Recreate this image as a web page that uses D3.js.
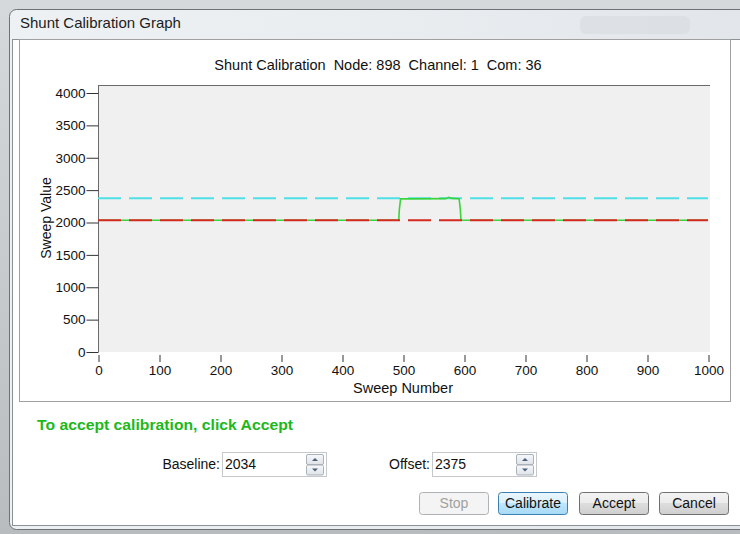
<!DOCTYPE html>
<html>
<head>
<meta charset="utf-8">
<script src="https://cdn.jsdelivr.net/npm/d3@7"></script>
<style>
  html, body { margin: 0; padding: 0; background: #c4c4c4; }
  svg { display: block; }
  text { font-family: "Liberation Sans", Arial, sans-serif; }
</style>
</head>
<body>
<svg id="win" width="740" height="534"></svg>
<script>
// dades del gràfic
const chartTitle = "Shunt Calibration  Node: 898  Channel: 1  Com: 36";
const xTicks = [0, 100, 200, 300, 400, 500, 600, 700, 800, 900, 1000];
const yTicks = [0, 500, 1000, 1500, 2000, 2500, 3000, 3500, 4000];
const baselineValue = 2034;
const offsetValue = 2375;
// traça verda (escombrat)
const sweepNumber = [0, 493, 494, 496, 570, 575, 580, 592, 594, 595, 1000];
const sweepValue  = [2034, 2034, 2200, 2365, 2368, 2390, 2372, 2368, 2200, 2034, 2034];
const buttons = ["Stop", "Calibrate", "Accept", "Cancel"];

const svg = d3.select("#win");
const defs = svg.append("defs");

// Fons d'escriptori borrós
const bg = defs.append("linearGradient").attr("id", "desk").attr("x1", 0).attr("x2", 0).attr("y1", 0).attr("y2", 1);
bg.append("stop").attr("offset", 0).attr("stop-color", "#d6d9dc");
bg.append("stop").attr("offset", 1).attr("stop-color", "#b9bcbf");
svg.append("rect").attr("width", 740).attr("height", 534).attr("fill", "url(#desk)");

// Marc de finestra (vidre)
const glass = defs.append("linearGradient").attr("id", "glass").attr("x1", 0).attr("x2", 1);
glass.append("stop").attr("offset", 0).attr("stop-color", "#eef1f4");
glass.append("stop").attr("offset", 0.5).attr("stop-color", "#eaedf0");
glass.append("stop").attr("offset", 1).attr("stop-color", "#e2e6ea");
svg.append("rect")
  .attr("x", 9.5).attr("y", 9.5).attr("width", 740).attr("height", 520)
  .attr("rx", 7).attr("fill", "url(#glass)").attr("stroke", "#6e7277");
// taques borroses a la barra de títol
svg.append("rect").attr("x", 580).attr("y", 16).attr("width", 110).attr("height", 18)
  .attr("fill", "#d3d7db").attr("opacity", 0.45).attr("rx", 6);

svg.append("text")
  .attr("x", 20).attr("y", 28)
  .attr("font-family", "'Noto Sans', 'Open Sans', sans-serif")
  .attr("font-size", 15).attr("fill", "#1c1c1c")
  .text("Shunt Calibration Graph");

// Àrea client
svg.append("rect")
  .attr("x", 12.5).attr("y", 39.5).attr("width", 730).attr("height", 486)
  .attr("fill", "#ffffff").attr("stroke", "#8c9196");

// Panell del gràfic
svg.append("rect")
  .attr("x", 19.5).attr("y", 39.5).attr("width", 711).attr("height", 362)
  .attr("fill", "#ffffff").attr("stroke", "#a0a0a0");

// Escales
const x = d3.scaleLinear().domain([0, 1000]).range([98, 708]);
const y = d3.scaleLinear().domain([0, 4000]).range([352, 93]);

// Fons de la zona de dibuix
svg.append("rect")
  .attr("x", 98).attr("y", 85).attr("width", 612).attr("height", 267)
  .attr("fill", "#f0f0f0");
svg.append("line")
  .attr("x1", 98).attr("x2", 710).attr("y1", 85.5).attr("y2", 85.5)
  .attr("stroke", "#6a6a6a");

// Títol del gràfic
svg.append("text")
  .attr("x", 378).attr("y", 70)
  .attr("text-anchor", "middle")
  .attr("font-size", 14.5).attr("fill", "#111")
  .style("white-space", "pre")
  .text(chartTitle);

// Eix Y
const yAxis = svg.append("g")
  .attr("transform", "translate(98.5,0)")
  .call(d3.axisLeft(y).tickValues(yTicks).tickFormat(d3.format("d"))
    .tickSize(12).tickPadding(1).tickSizeOuter(0));
yAxis.select(".domain").attr("d", "M0,85V352").attr("stroke", "#6a6a6a");
yAxis.selectAll(".tick line").attr("stroke", "#333");
yAxis.selectAll(".tick text")
  .attr("font-size", 13.5).attr("fill", "#111")
  .attr("font-family", "'Liberation Sans', Arial, sans-serif");

// Eix X (marques separades de la zona)
const xAxis = svg.append("g")
  .attr("transform", "translate(0.5,355)")
  .call(d3.axisBottom(x).tickValues(xTicks).tickFormat(d3.format("d"))
    .tickSize(7).tickPadding(3).tickSizeOuter(0));
xAxis.select(".domain").remove();
xAxis.selectAll(".tick line").attr("stroke", "#333");
xAxis.selectAll(".tick text")
  .attr("font-size", 13.5).attr("fill", "#111")
  .attr("font-family", "'Liberation Sans', Arial, sans-serif");

svg.append("text")
  .attr("x", 403).attr("y", 393)
  .attr("text-anchor", "middle")
  .attr("font-size", 14.5).attr("fill", "#111")
  .text("Sweep Number");

svg.append("text")
  .attr("transform", "translate(51,218) rotate(-90)")
  .attr("text-anchor", "middle")
  .attr("font-size", 14).attr("fill", "#111")
  .text("Sweep Value");

// Línies
const line = d3.line().x(d => x(d[0])).y(d => y(d[1]));

svg.append("path")
  .datum([[0, offsetValue], [1000, offsetValue]])
  .attr("d", line)
  .attr("fill", "none").attr("stroke", "#4fdfe6").attr("stroke-width", 2)
  .attr("stroke-dasharray", "23 8");

svg.append("path")
  .datum(sweepNumber.map((n, i) => [n, sweepValue[i]]))
  .attr("d", line)
  .attr("fill", "none").attr("stroke", "#3ad43a").attr("stroke-width", 1.6);

svg.append("path")
  .datum([[0, baselineValue], [1000, baselineValue]])
  .attr("d", line)
  .attr("fill", "none").attr("stroke", "#d42a20").attr("stroke-width", 2)
  .attr("stroke-dasharray", "23 8");

// Missatge
svg.append("text")
  .attr("x", 37).attr("y", 430)
  .attr("font-family", "'DejaVu Sans', Verdana, sans-serif")
  .attr("font-weight", "bold")
  .attr("font-size", 14.5).attr("fill", "#1cb81c")
  .attr("textLength", 256).attr("lengthAdjust", "spacingAndGlyphs")
  .text("To accept calibration, click Accept");

// Camps numèrics amb botons d'increment
const spinGrad = defs.append("linearGradient").attr("id", "spin").attr("x1", 0).attr("x2", 0).attr("y1", 0).attr("y2", 1);
spinGrad.append("stop").attr("offset", 0).attr("stop-color", "#f7f8fa");
spinGrad.append("stop").attr("offset", 1).attr("stop-color", "#dfe3e8");

function spinBox(label, value, labelRight, bx) {
  svg.append("text")
    .attr("x", labelRight).attr("y", 469)
    .attr("text-anchor", "end")
    .attr("font-size", 14).attr("fill", "#111")
    .text(label);
  svg.append("rect")
    .attr("x", bx + 0.5).attr("y", 452.5).attr("width", 104).attr("height", 24)
    .attr("fill", "#fff").attr("stroke", "#c5c9ce");
  svg.append("text")
    .attr("x", bx + 3).attr("y", 469)
    .attr("font-size", 14).attr("fill", "#111")
    .text(value);
  [0, 1].forEach(k => {
    const sy = 454.5 + k * 10.5;
    svg.append("rect")
      .attr("x", bx + 84.5).attr("y", sy).attr("width", 17).attr("height", 10)
      .attr("rx", 1.5).attr("fill", "url(#spin)").attr("stroke", "#a9b1ba");
    const cx = bx + 93, cy = sy + 5;
    const tri = k === 0
      ? `M${cx - 3},${cy + 1.5}L${cx + 3},${cy + 1.5}L${cx},${cy - 1.5}Z`
      : `M${cx - 3},${cy - 1.5}L${cx + 3},${cy - 1.5}L${cx},${cy + 1.5}Z`;
    svg.append("path").attr("d", tri).attr("fill", "#4a5f78");
  });
}
spinBox("Baseline:", String(baselineValue), 220, 222);
spinBox("Offset:", String(offsetValue), 430, 432);

// Botons
const btnGrad = defs.append("linearGradient").attr("id", "btn").attr("x1", 0).attr("x2", 0).attr("y1", 0).attr("y2", 1);
btnGrad.append("stop").attr("offset", 0).attr("stop-color", "#f3f3f3");
btnGrad.append("stop").attr("offset", 0.5).attr("stop-color", "#ebebeb");
btnGrad.append("stop").attr("offset", 0.5).attr("stop-color", "#dddddd");
btnGrad.append("stop").attr("offset", 1).attr("stop-color", "#cfcfcf");
const focGrad = defs.append("linearGradient").attr("id", "btnf").attr("x1", 0).attr("x2", 0).attr("y1", 0).attr("y2", 1);
focGrad.append("stop").attr("offset", 0).attr("stop-color", "#eaf6fd");
focGrad.append("stop").attr("offset", 0.5).attr("stop-color", "#d9f0fc");
focGrad.append("stop").attr("offset", 0.5).attr("stop-color", "#bee6fd");
focGrad.append("stop").attr("offset", 1).attr("stop-color", "#a7d9f5");

const btnX = [419, 498, 579, 659];
buttons.forEach((b, i) => {
  const disabled = b === "Stop";
  const focus = b === "Calibrate";
  svg.append("rect")
    .attr("x", btnX[i] + 0.5).attr("y", 492.5).attr("width", 69).attr("height", 22)
    .attr("rx", 3)
    .attr("fill", disabled ? "#f4f4f4" : focus ? "url(#btnf)" : "url(#btn)")
    .attr("stroke", disabled ? "#adb2b5" : focus ? "#3c7fb1" : "#707070");
  svg.append("text")
    .attr("x", btnX[i] + 35).attr("y", 508)
    .attr("text-anchor", "middle")
    .attr("font-size", 14)
    .attr("fill", disabled ? "#a0a0a0" : "#111")
    .text(b);
});
</script>
</body>
</html>
